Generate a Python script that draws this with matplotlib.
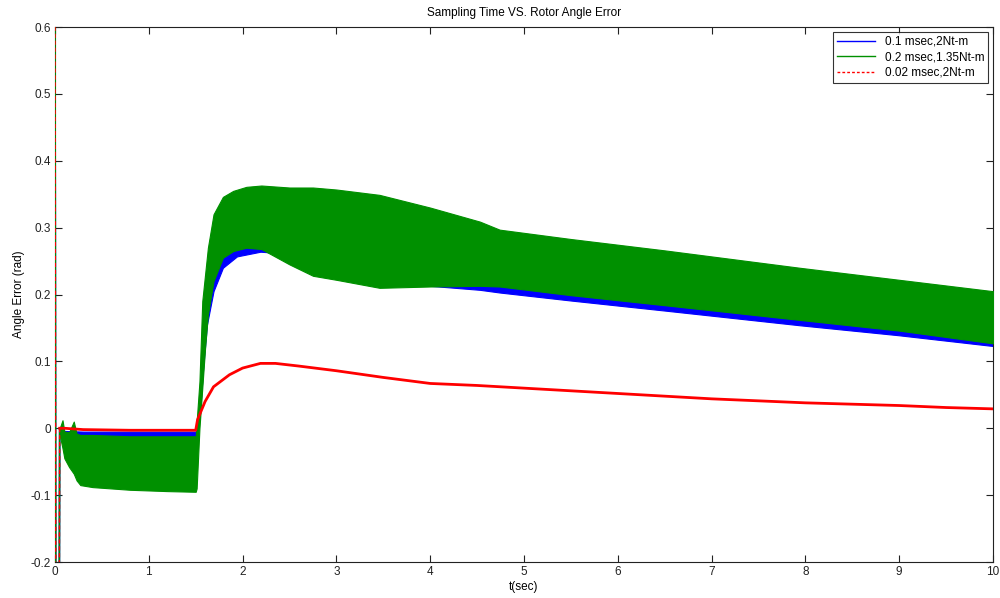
import matplotlib
matplotlib.use("Agg")
import matplotlib.pyplot as plt
from matplotlib.lines import Line2D

plt.rcParams['font.family'] = ['Liberation Sans', 'DejaVu Sans']

# ---------------- data ----------------
title = "Sampling Time VS. Rotor Angle Error"
xlabel = "t(sec)"
ylabel = "Angle Error (rad)"
labels = ["0.1 msec,2Nt-m", "0.2 msec,1.35Nt-m", "0.02 msec,2Nt-m"]
xticks = [0, 1, 2, 3, 4, 5, 6, 7, 8, 9, 10]
yticks = [-0.2, -0.1, 0, 0.1, 0.2, 0.3, 0.4, 0.5, 0.6]

# start-up transient (same for all three runs)
trans_t = [0.0, 0.008, 0.045, 0.05]
trans_v = [0.65, -0.30, -0.30, 0.0]

# blue: 0.1 msec, 2 Nt-m  (oscillation envelope)
blue_t  = [0.05, 0.10, 0.30, 0.80, 1.50, 1.51, 1.545, 1.58, 1.62, 1.69, 1.79, 1.94, 2.19, 2.40,
           2.70, 3.00, 3.46, 4.00, 4.53, 4.74, 5.50, 6.50, 7.94, 9.00, 10.00]
blue_lo = [-0.010, -0.016, -0.015, -0.014, -0.014, -0.014, 0.020, 0.090, 0.155, 0.205, 0.240, 0.257,
           0.264, 0.262, 0.252, 0.237, 0.219, 0.213, 0.207, 0.203, 0.191, 0.176, 0.154, 0.139, 0.123]
blue_hi = [0.000, -0.004, -0.005, -0.005, -0.005, 0.000, 0.045, 0.125, 0.190, 0.235, 0.262, 0.274,
           0.280, 0.290, 0.290, 0.285, 0.270, 0.255, 0.245, 0.240, 0.225, 0.210, 0.190, 0.172, 0.160]

# green: 0.2 msec, 1.35 Nt-m  (oscillation envelope)
green_t  = [0.05, 0.08, 0.10, 0.15, 0.20, 0.23, 0.27, 0.40, 0.60, 0.80, 1.00, 1.20, 1.50, 1.51,
            1.54, 1.57, 1.60, 1.63, 1.69, 1.79, 1.90, 2.04, 2.20, 2.50, 2.75, 3.00, 3.46, 4.00,
            4.53, 4.74, 5.50, 6.50, 7.94, 9.00, 10.00]
green_lo = [-0.010, -0.030, -0.045, -0.058, -0.068, -0.078, -0.085, -0.088, -0.090, -0.092, -0.093,
            -0.094, -0.095, -0.090, 0.000, 0.060, 0.120, 0.170, 0.220, 0.255, 0.265, 0.270, 0.268,
            0.245, 0.228, 0.222, 0.210, 0.212, 0.213, 0.212, 0.199, 0.184, 0.162, 0.146, 0.127]
green_hi = [0.000, 0.012, -0.005, -0.006, 0.010, -0.008, -0.010, -0.010, -0.011, -0.012, -0.012,
            -0.012, -0.012, 0.010, 0.070, 0.190, 0.230, 0.270, 0.320, 0.346, 0.355, 0.361, 0.363,
            0.360, 0.360, 0.357, 0.349, 0.330, 0.309, 0.297, 0.283, 0.266, 0.240, 0.222, 0.205]

# red: 0.02 msec, 2 Nt-m
red_t = [0.05, 0.10, 0.30, 0.80, 1.50, 1.52, 1.60, 1.69, 1.86, 2.00, 2.19, 2.35, 2.60, 3.00,
         3.50, 4.00, 4.50, 5.00, 5.50, 6.00, 6.50, 7.00, 7.50, 8.00, 8.50, 9.00, 9.50, 10.00]
red_v = [0.000, 0.000, -0.002, -0.003, -0.003, 0.013, 0.040, 0.062, 0.080, 0.090, 0.097, 0.097,
         0.093, 0.086, 0.076, 0.067, 0.064, 0.060, 0.056, 0.052, 0.048, 0.044, 0.041, 0.038,
         0.036, 0.034, 0.031, 0.029]

# ---------------- drawing ----------------
blue_c = "#0000ff"
green_c = "#009000"
red_c = "#ff0000"

fig = plt.figure(figsize=(10, 5.98), dpi=100)
ax = fig.add_axes([0.055, 0.0602, 0.938, 0.8946])

ax.plot(trans_t, trans_v, color=blue_c, lw=1.2, zorder=2)
ax.fill_between(blue_t, blue_lo, blue_hi, color=blue_c, lw=0.8, zorder=2)

ax.plot(trans_t, trans_v, color=green_c, lw=1.2, zorder=3)
ax.fill_between(green_t, green_lo, green_hi, color=green_c, lw=0.8, zorder=3)

ax.plot(trans_t, trans_v, color=red_c, lw=1.0, ls=(0, (3, 2)), zorder=4)
ax.plot(red_t, red_v, color=red_c, lw=2.0, zorder=4)

ax.set_xlim(0, 10)
ax.set_ylim(-0.2, 0.6)
ax.set_xticks(xticks)
ax.set_xticklabels([str(v) for v in xticks])
ax.set_yticks(yticks)
ax.set_yticklabels(["-0.2", "-0.1", "0", "0.1", "0.2", "0.3", "0.4", "0.5", "0.6"])
ax.tick_params(direction="in", length=5, width=0.8, top=True, right=True,
               labelsize=8.5, colors="#222222", pad=3)
for s in ax.spines.values():
    s.set_linewidth(0.8)
    s.set_color("#222222")

ax.set_title(title, fontsize=8.5, pad=8)
ax.set_xlabel(xlabel, fontsize=8.5, labelpad=2)
ax.set_ylabel(ylabel, fontsize=8.5, labelpad=4)

handles = [Line2D([], [], color=blue_c, lw=1),
           Line2D([], [], color=green_c, lw=1),
           Line2D([], [], color=red_c, lw=1, ls=(0, (2, 1.5)))]
leg = ax.legend(handles, labels, loc="upper right", fontsize=8.5, frameon=True,
                fancybox=False, borderaxespad=0.4, handlelength=3.2, handletextpad=0.8,
                borderpad=0.35, labelspacing=0.3)
leg.get_frame().set_edgecolor("black")
leg.get_frame().set_linewidth(0.8)

fig.savefig("out.png", dpi=100)
